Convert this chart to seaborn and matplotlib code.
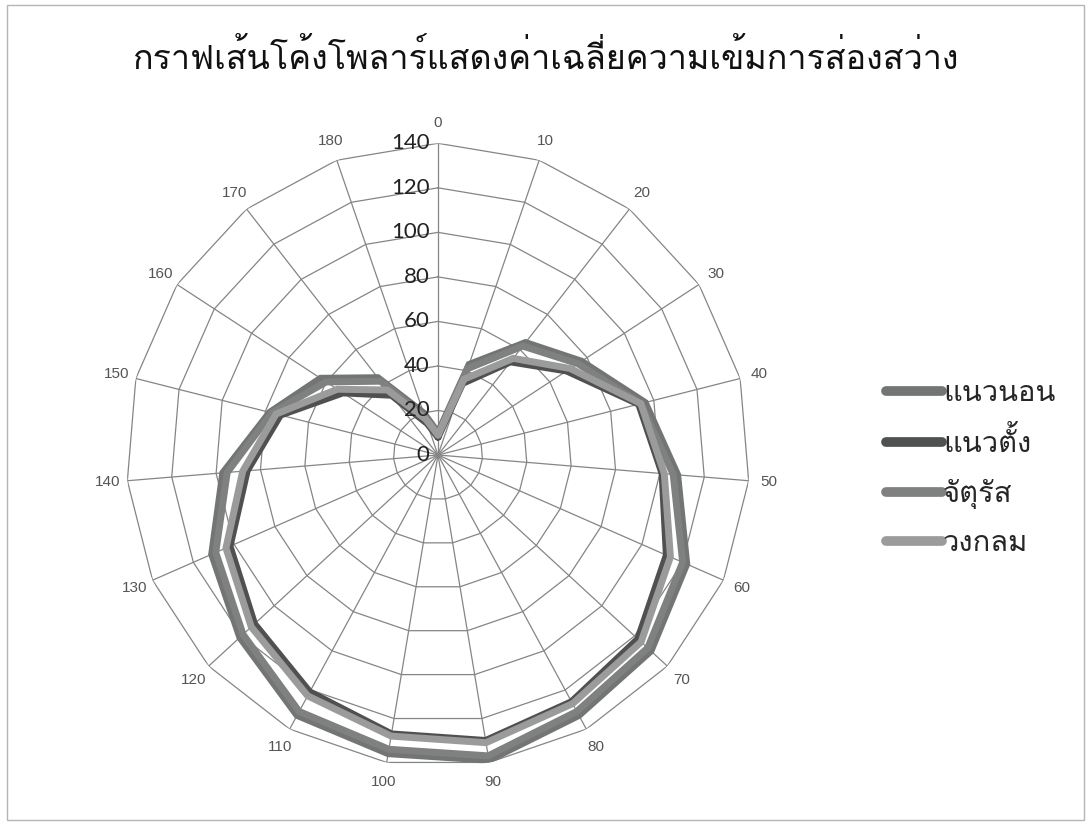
import numpy as np
import pandas as pd
import seaborn as sns
import matplotlib
matplotlib.use("Agg")
import matplotlib.pyplot as plt
from matplotlib import font_manager
from matplotlib.ft2font import FT2Font
from matplotlib.lines import Line2D
from matplotlib.patches import Rectangle

# angles (degrees) on the radar chart
categories = [0, 10, 20, 30, 40, 50, 60, 70, 80, 90, 100, 110, 120, 130, 140, 150, 160, 170, 180]
# average illuminance per angle
horizontal = [10, 43, 64, 77, 96, 108, 122, 130, 133, 139, 136, 133, 121, 111, 97, 78, 63, 44, 20]
vertical = [8, 34, 53, 69, 93, 101, 112, 122, 126, 130, 127, 121, 112, 102, 86, 73, 51, 34, 15]
square = [9, 41, 62, 75, 94, 106, 120, 128, 131, 137, 134, 131, 119, 109, 95, 77, 60, 42, 18]
circle = [9, 36, 55, 71, 94, 102, 114, 124, 127, 131, 128, 123, 114, 104, 88, 75, 54, 37, 17]
series_names = ["แนวนอน", "แนวตั้ง", "จัตุรัส", "วงกลม"]
series_colors = ["#737574", "#4f5150", "#7f8180", "#9a9b9a"]
r_ticks = [0, 20, 40, 60, 80, 100, 120, 140]
title = "กราฟเส้นโค้งโพลาร์แสดงค่าเฉลี่ยความเข้มการส่องสว่าง"

# find an installed font that has Thai glyphs
thai_font = None
for f in font_manager.fontManager.ttflist:
    try:
        if 0x0E01 in FT2Font(f.fname).get_charmap():
            thai_font = f.name
            break
    except Exception:
        pass

sns.set_style("white")
fams = [thai_font, "DejaVu Sans"] if thai_font else ["DejaVu Sans"]
plt.rcParams["font.family"] = fams

n = len(categories)
theta = np.arange(n) * 2 * np.pi / n

rows = []
for name, vals in zip(series_names, [horizontal, vertical, square, circle]):
    for i, (c, v) in enumerate(zip(categories, vals)):
        rows.append({"series": name, "theta": theta[i], "value": v, "order": i})
    rows.append({"series": name, "theta": 2 * np.pi, "value": vals[0], "order": n})
df = pd.DataFrame(rows)

fig = plt.figure(figsize=(10.91, 8.25), dpi=100)
ax = fig.add_axes([126.3 / 1091, 1 - 766.7 / 825, 623.4 / 1091, 623.4 / 825], projection="polar")
ax.set_theta_offset(np.pi / 2)
ax.set_theta_direction(-1)
ax.set_ylim(0, 140)
ax.grid(False)
ax.spines["polar"].set_visible(False)
ax.set_xticks([])
ax.set_yticks([])

# polygon grid + spokes
grid_c = "#858585"
closed = np.append(theta, 2 * np.pi)
for r in r_ticks[1:]:
    ax.plot(closed, [r] * (n + 1), color=grid_c, lw=0.9, zorder=1)
for t in theta:
    ax.plot([t, t], [0, 140], color=grid_c, lw=0.9, zorder=1)

sns.lineplot(data=df, x="theta", y="value", hue="series", palette=series_colors,
             hue_order=series_names, units="series", estimator=None, sort=False,
             lw=5, ax=ax, legend=False, zorder=3)
for line in ax.lines[-4:]:
    line.set_solid_joinstyle("miter")
ax.set_xlabel("")
ax.set_ylabel("")

# category labels
for t, c in zip(theta, categories):
    ax.text(t, 149, str(c), ha="center", va="center", fontsize=11,
            color="#555555", family="Liberation Sans", clip_on=False)

# radial labels on the 0 spoke
for r in r_ticks:
    ax.annotate(str(r), xy=(0, r), xytext=(-6, 0), textcoords="offset points",
                ha="right", va="center", fontsize=16, color="#222222", family="Lato",
                annotation_clip=False)

fig.suptitle(title, x=0.5, y=1 - 58 / 825, va="center", fontsize=24.5, color="#111111")

handles = [Line2D([0], [0], color=c, lw=7, solid_capstyle="round") for c in series_colors]
fig.legend(handles, series_names, loc="center left", bbox_to_anchor=(860 / 1091, 1 - 468 / 825),
           frameon=False, fontsize=21, labelspacing=0.7, handlelength=1.9, handletextpad=0.05)

fig.patches.append(Rectangle((0.006, 0.006), 0.988, 0.988, transform=fig.transFigure,
                             fill=False, edgecolor="#b5b5b5", lw=1))

fig.savefig("out.png", dpi=100)
